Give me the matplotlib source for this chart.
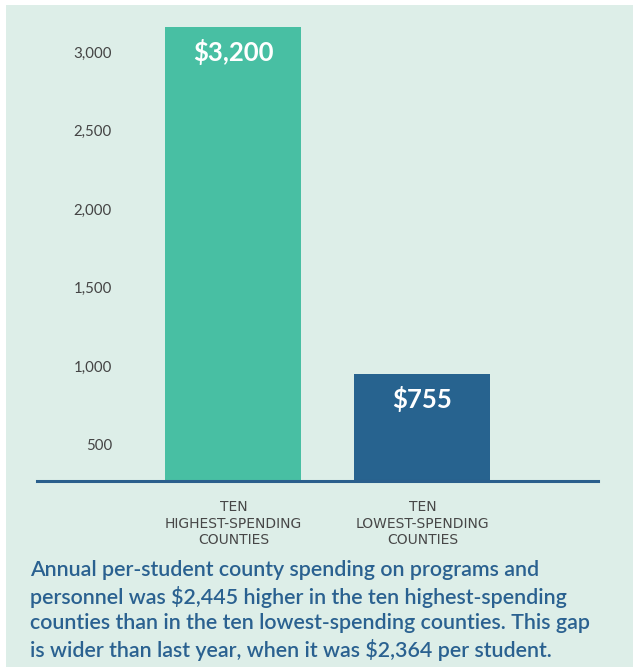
import matplotlib.pyplot as plt
from matplotlib.patches import Rectangle

# data
categories = ["TEN\nHIGHEST-SPENDING\nCOUNTIES", "TEN\nLOWEST-SPENDING\nCOUNTIES"]
values = [3200, 755]
value_labels = ["$3,200", "$755"]
tick_values = [500, 1000, 1500, 2000, 2500, 3000]
tick_labels = ["500", "1,000", "1,500", "2,000", "2,500", "3,000"]
caption = ("Annual per-student county spending on programs and\n"
           "personnel was $2,445 higher in the ten highest-spending\n"
           "counties than in the ten lowest-spending counties. This gap\n"
           "is wider than last year, when it was $2,364 per student.")

bg = "#ddeee8"
bar_colors = ["#48bfa3", "#27638f"]
blue = "#2a6190"

W, H = 633, 667
fig = plt.figure(figsize=(W / 100, H / 100), dpi=100)
fig.patch.set_facecolor("white")
fig.patches.append(Rectangle((6 / W, 0), 1, 1 - 5 / H, transform=fig.transFigure,
                             facecolor=bg, edgecolor="none", zorder=-1))

# axes: baseline at y=481px, from x=37 to 598
left, right = 37 / W, 598 / W
bottom, top = 1 - 481 / H, 1 - 10 / H
ax = fig.add_axes([left, bottom, right - left, top - bottom])
ax.set_facecolor("none")
x = [0, 1]
ax.bar(x, values, width=0.72, color=bar_colors, zorder=2)
ax.set_xlim(-1.04, 1.93)
ax.set_ylim(0, 3319)
for s in ["top", "right", "left"]:
    ax.spines[s].set_visible(False)
ax.spines["bottom"].set_color("#2a5f8c")
ax.spines["bottom"].set_linewidth(2.2)
ax.spines["bottom"].set_zorder(3)
ax.set_yticks([])
ax.set_xticks(x)
ax.set_xticklabels(categories, family="Liberation Sans Narrow", fontsize=10,
                   color="#474747", linespacing=1.2)
ax.tick_params(axis="x", length=0, pad=14)

for xi, v, lab in zip(x, values, value_labels):
    ax.text(xi, v - 175, lab, ha="center", va="center",
            color="white", fontsize=18.5, fontweight="bold", family="Lato", zorder=4)

# value scale drawn as in the original graphic (labels spaced independently)
ax2 = ax.twinx()
ax2.set_ylim(271, 3267)
ax2.set_yticks(tick_values)
ax2.set_yticklabels(tick_labels, family="Lato", fontsize=10.8, color="#444444")
ax2.yaxis.tick_left()
ax2.tick_params(axis="y", length=0, pad=-54)
for s in ax2.spines.values():
    s.set_visible(False)

fig.text(30 / W, 1 - 560 / H, caption, ha="left", va="top", family="Lato",
         fontsize=15.4, fontweight="semibold", color=blue, linespacing=1.32)

fig.savefig("out.png", dpi=100, facecolor=fig.get_facecolor())
